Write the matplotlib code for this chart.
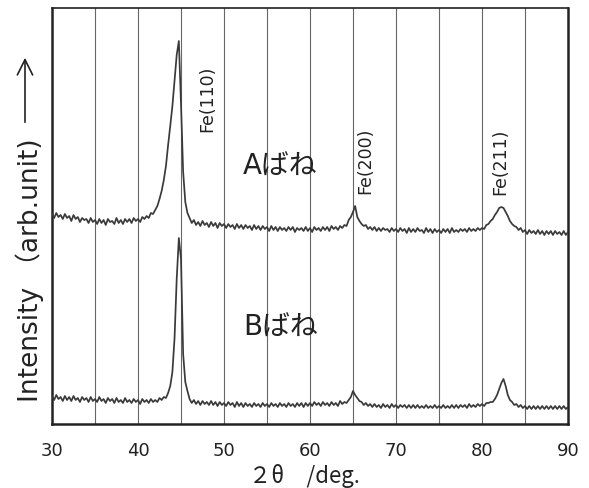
import numpy as np
import matplotlib.pyplot as plt

# 2theta grid, 0.25 deg step from 30 to 90
two_theta = np.arange(30, 90.001, 0.25)

# intensity of A spring (arb. unit), 4 values per degree
int_a = [
    210, 206, 211, 207, 209, 205, 210, 206, 208, 203, 209, 205,
    207, 202, 206, 204, 205, 201, 206, 202, 204, 200, 205, 201,
    204, 199, 205, 202, 203, 200, 206, 201, 204, 200, 205, 202,
    205, 201, 206, 203, 205, 202, 207, 205, 208, 206, 211, 210,
    214, 218, 225, 233, 244, 258, 279, 298, 318, 344, 369, 383,
    320, 252, 222, 211, 206, 201, 204, 199, 202, 198, 203, 199,
    201, 197, 202, 198, 201, 196, 201, 198, 200, 196, 200, 197,
    199, 195, 200, 196, 199, 195, 199, 196, 198, 194, 199, 195,
    198, 194, 198, 195, 197, 193, 198, 194, 197, 193, 197, 194,
    196, 193, 197, 194, 197, 192, 196, 194, 196, 193, 197, 193,
    196, 192, 197, 194, 196, 193, 197, 194, 197, 193, 198, 195,
    197, 194, 198, 196, 199, 198, 204, 207, 212, 218, 207, 203,
    200, 198, 199, 195, 197, 194, 197, 193, 196, 193, 196, 194,
    195, 192, 196, 193, 195, 192, 196, 193, 195, 191, 196, 192,
    195, 192, 196, 193, 194, 191, 196, 192, 195, 191, 195, 192,
    194, 191, 195, 192, 195, 191, 196, 192, 194, 192, 195, 193,
    195, 192, 196, 193, 195, 193, 196, 194, 196, 195, 199, 200,
    203, 205, 209, 212, 216, 217, 216, 212, 208, 203, 200, 198,
    197, 194, 196, 192, 194, 190, 194, 191, 193, 190, 194, 190,
    193, 189, 193, 190, 193, 189, 193, 190, 192, 189, 193, 189,
    192,
]

# intensity of B spring (arb. unit)
int_b = [
    28, 24, 29, 25, 27, 23, 28, 24, 27, 23, 28, 24,
    26, 22, 27, 24, 26, 22, 27, 23, 25, 22, 27, 23,
    25, 21, 26, 23, 25, 21, 26, 22, 24, 21, 26, 22,
    24, 21, 25, 22, 24, 20, 25, 22, 24, 21, 25, 22,
    24, 22, 26, 24, 27, 26, 31, 38, 52, 86, 145, 186,
    165, 70, 42, 33, 25, 21, 24, 20, 23, 19, 23, 20,
    22, 19, 23, 19, 22, 18, 22, 19, 21, 18, 22, 19,
    21, 17, 22, 18, 21, 17, 21, 18, 20, 17, 21, 18,
    20, 17, 21, 18, 20, 17, 21, 18, 20, 17, 21, 18,
    20, 17, 21, 18, 20, 17, 21, 18, 21, 17, 21, 18,
    21, 18, 22, 19, 21, 18, 22, 19, 21, 18, 22, 19,
    21, 18, 23, 20, 22, 21, 24, 27, 33, 29, 26, 23,
    22, 19, 21, 18, 20, 17, 20, 17, 19, 16, 20, 17,
    19, 16, 20, 17, 19, 16, 19, 17, 19, 16, 19, 16,
    19, 16, 19, 16, 18, 16, 19, 16, 18, 16, 19, 16,
    18, 16, 19, 16, 18, 16, 19, 16, 19, 16, 19, 17,
    19, 16, 20, 17, 19, 17, 20, 18, 20, 18, 21, 21,
    22, 22, 25, 29, 35, 41, 45, 38, 29, 24, 22, 19,
    20, 17, 19, 16, 18, 15, 18, 15, 18, 15, 18, 15,
    18, 15, 18, 15, 18, 15, 18, 15, 18, 15, 18, 15,
    17,
]

peak_labels = ['Fe(110)', 'Fe(200)', 'Fe(211)']
peak_pos = [48.0, 66.4, 82.1]
peak_y = [325, 263, 262]

sample_names = ['Aばね', 'Bばね']
sample_y = [257, 96]

xticks = [30, 40, 50, 60, 70, 80, 90]

fam = ['DejaVu Sans', 'Noto Sans CJK JP']
jp = ['Noto Sans CJK JP', 'DejaVu Sans']
line_c = '#3a3a3a'
txt_c = '#222222'

fig = plt.figure(figsize=(5.89, 4.88), dpi=100)
ax = fig.add_axes([52 / 589, 64 / 488, 516 / 589, 416 / 488])

for g in np.arange(35, 90, 5):
    ax.axvline(g, color='#666666', lw=0.8, zorder=1)

ax.plot(two_theta, int_a, color=line_c, lw=1.25, zorder=3)
ax.plot(two_theta, int_b, color=line_c, lw=1.25, zorder=3)

ax.set_xlim(30, 90)
ax.set_ylim(0, 416)
ax.set_xticks(xticks)
ax.set_xticklabels([str(t) for t in xticks], family=fam, fontsize=13)
ax.set_yticks([])
ax.tick_params(axis='x', length=0, pad=13, colors=txt_c)

for s in ['left', 'bottom', 'right']:
    ax.spines[s].set_linewidth(1.8)
ax.spines['top'].set_linewidth(1.2)
for s in ax.spines.values():
    s.set_color(txt_c)

for lab, x, y in zip(peak_labels, peak_pos, peak_y):
    ax.text(x, y, lab, rotation=90, ha='center', va='center',
            family=fam, fontsize=12.5, color=txt_c, zorder=4)

for name, y in zip(sample_names, sample_y):
    ax.text(52.2, y, name, ha='left', va='center', family=fam,
            fontsize=20, color=txt_c, zorder=4)

fig.text(304 / 589, 1 - 476 / 488, '２θ　/deg.', ha='center', va='center',
         family=jp, fontsize=16, color=txt_c)
fig.text(30 / 589, 1 - 270 / 488, 'Intensity （arb.unit)', rotation=90,
         ha='center', va='center', family=fam, fontsize=19, color=txt_c)
ax.annotate('', xy=(25 / 589, 1 - 55 / 488), xytext=(25 / 589, 1 - 125 / 488),
            xycoords='figure fraction', textcoords='figure fraction',
            arrowprops=dict(arrowstyle='->,head_length=1.1,head_width=0.55',
                            color=txt_c, lw=1.2))

fig.savefig('out.png', dpi=100)
